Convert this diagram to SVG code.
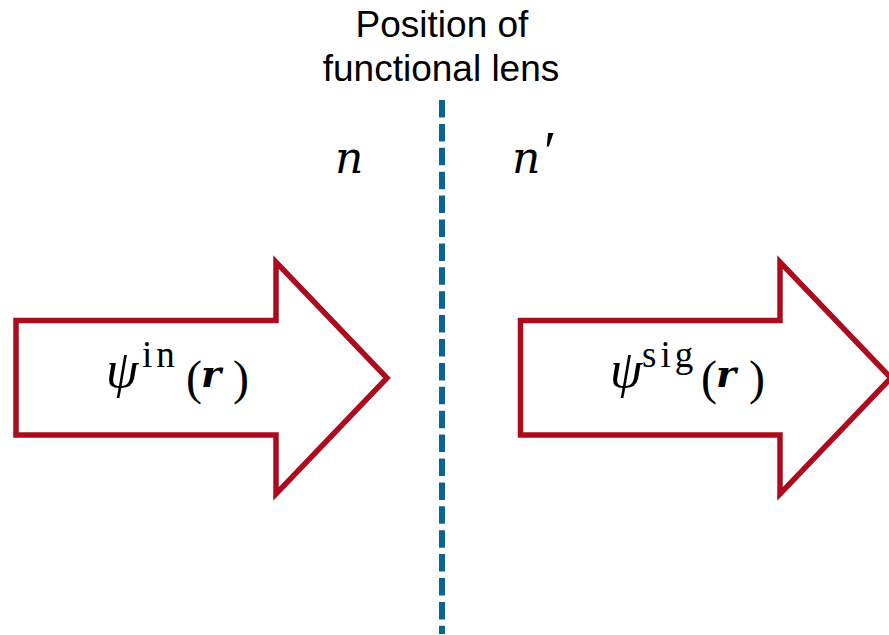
<svg xmlns="http://www.w3.org/2000/svg" width="889" height="635" viewBox="0 0 889 635">
<style>
.arrow{fill:#ffffff;stroke:#AC0B1E;stroke-width:5.5;stroke-linejoin:miter}
.lens{stroke:#0B6592;stroke-width:6;stroke-dasharray:17.5 6.4;fill:none}
.title{font-family:"Liberation Sans",Arial,sans-serif;font-size:37px;fill:#000;text-anchor:middle}
.math{font-family:"Liberation Serif","DejaVu Serif",serif;fill:#000}
.dv{font-family:"DejaVu Serif","Liberation Serif",serif}
.it{font-style:italic}
.psi{font-style:italic;font-size:52px}
.bi{font-style:italic;font-weight:bold;font-family:"DejaVu Serif","Liberation Serif",serif;font-size:38px}
.sup{font-size:37px;letter-spacing:4px}
.par{font-size:48px}
</style>
<rect width="889" height="635" fill="#ffffff"/>
<g id="connectors">
<line class="lens" x1="442" y1="100" x2="442" y2="634"/>
</g>
<g id="title">
<text class="title" x="442" y="37">Position of</text>
<text class="title" x="441" y="81">functional lens</text>
</g>
<g id="label-n">
<text class="math dv it" x="335" y="173" font-size="44">n</text>
</g>
<g id="label-nprime">
<text class="math dv it" x="512" y="173" font-size="44">n<tspan class="math" x="544" y="171" font-size="56" font-style="normal">′</tspan></text>
</g>
<g id="arrow-in">
<polygon class="arrow" points="16,320.5 276,320.5 276,262 387,378 276,494 276,435 16,435"/>
<text class="math" font-size="44"><tspan class="psi" x="106" y="387">ψ</tspan><tspan class="sup" x="142" y="367">in</tspan><tspan class="par" x="186" y="394">(</tspan><tspan class="bi" x="201" y="387">r</tspan><tspan class="par" x="233" y="394">)</tspan></text>
</g>
<g id="arrow-sig">
<polygon class="arrow" points="520.5,320.5 780,320.5 780,262 891,378 780,494 780,435 520.5,435"/>
<text class="math" font-size="44"><tspan class="psi" x="610" y="387">ψ</tspan><tspan class="sup" x="642" y="367">sig</tspan><tspan class="par" x="701" y="394">(</tspan><tspan class="bi" x="716" y="387">r</tspan><tspan class="par" x="749" y="394">)</tspan></text>
</g>
</svg>
